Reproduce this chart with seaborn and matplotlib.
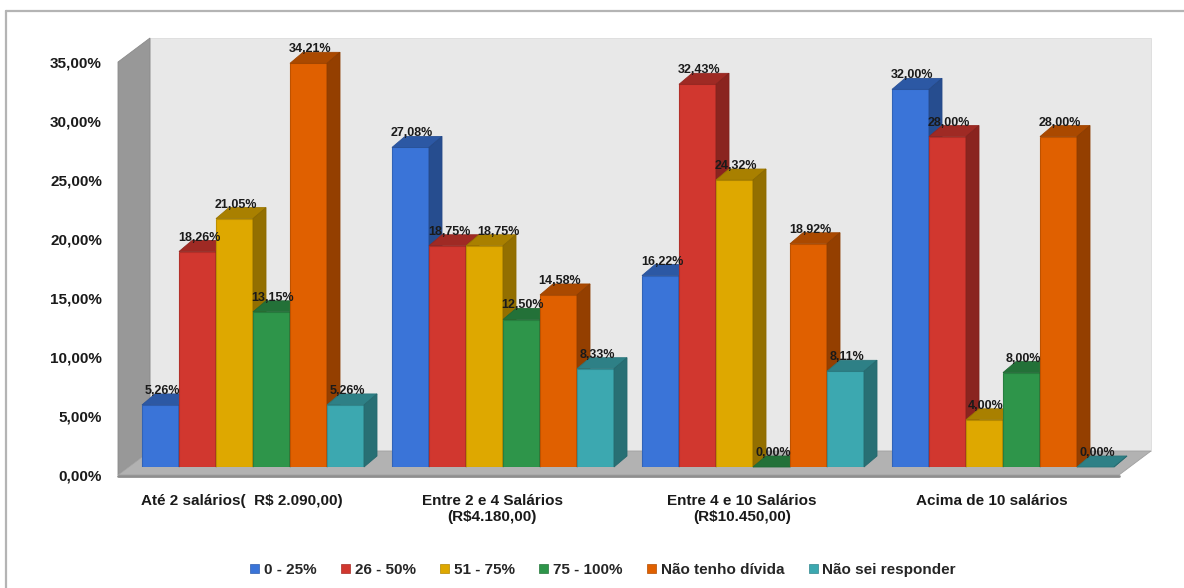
import numpy as np
import pandas as pd
import matplotlib
matplotlib.use("Agg")
import matplotlib.pyplot as plt
import seaborn as sns
from matplotlib.patches import Polygon, Patch
from matplotlib.lines import Line2D
from matplotlib.transforms import IdentityTransform, ScaledTranslation
from matplotlib import font_manager

categories = ["Até 2 salários(  R$ 2.090,00)",
              "Entre 2 e 4 Salários\n(R$4.180,00)",
              "Entre 4 e 10 Salários\n(R$10.450,00)",
              "Acima de 10 salários"]
series = ["0 - 25%", "26 - 50%", "51 - 75%", "75 - 100%",
          "Não tenho dívida", "Não sei responder"]
v_0_25 = [5.26, 27.08, 16.22, 32.00]
v_26_50 = [18.26, 18.75, 32.43, 28.00]
v_51_75 = [21.05, 18.75, 24.32, 4.00]
v_75_100 = [13.15, 12.50, 0.00, 8.00]
v_nao_tenho = [34.21, 14.58, 18.92, 28.00]
v_nao_sei = [5.26, 8.33, 8.11, 0.00]
yticks = [0, 5, 10, 15, 20, 25, 30, 35]
colors = ["#3A74D8", "#D1372F", "#DEA800", "#2E954A", "#E06000", "#3CA8B0"]

all_vals = [v_0_25, v_26_50, v_51_75, v_75_100, v_nao_tenho, v_nao_sei]
rows = []
for s, vals in zip(series, all_vals):
    for c, v in zip(categories, vals):
        rows.append({"cat": c, "serie": s, "val": v})
df = pd.DataFrame(rows)

sns.set_style("white")
names = {f.name for f in font_manager.fontManager.ttflist}
main_font = "Liberation Sans" if "Liberation Sans" in names else "DejaVu Sans"
narrow_font = "Liberation Sans Narrow" if "Liberation Sans Narrow" in names else main_font
plt.rcParams["font.family"] = [main_font, "DejaVu Sans"]

W, H = 1184, 588
fig = plt.figure(figsize=(W / 100, H / 100), dpi=100, facecolor="white")
ax = fig.add_axes([129 / W, (H - 467) / H, (1130 - 129) / W, (467 - 54) / H])
ax.set_facecolor("none")

sns.barplot(data=df, x="cat", y="val", hue="serie", hue_order=series,
            order=categories, palette=colors, width=0.888, gap=0,
            saturation=1, legend=False, ax=ax)
ax.set_xlim(-0.496, 3.508)
ax.set_ylim(0, 35)
for sp in ax.spines.values():
    sp.set_visible(False)
ax.set_xlabel("")
ax.set_ylabel("")

ax.set_yticks(yticks)
ax.set_yticklabels([f"{t:.2f}%".replace(".", ",") for t in yticks])
ax.tick_params(axis="y", length=0, pad=16 / 1.389, labelsize=11)
ax.tick_params(axis="x", length=0, pad=19 / 1.389, labelsize=11)
front_off = ScaledTranslation(-11 / 100, -8 / 100, fig.dpi_scale_trans)
for lab in ax.get_yticklabels() + ax.get_xticklabels():
    lab.set_transform(lab.get_transform() + front_off)
    lab.set_fontweight("bold")
    lab.set_color("#1a1a1a")
for lab in ax.get_xticklabels():
    lab.set_linespacing(1.2)

# 3D scene: walls and floor
T = ax.transData
def D(x, y, dx=0, dy=0):
    p = T.transform((x, y))
    return (p[0] + dx, p[1] + dy)

x0, x1 = ax.get_xlim()
top = 35
FX, FY = -11, -8
BX, BY = 21, 16
idt = IdentityTransform()
back = Polygon([D(x0, 0, BX, BY), D(x1, 0, BX, BY), D(x1, top, BX, BY), D(x0, top, BX, BY)],
               closed=True, facecolor="#e8e8e8", edgecolor="#dcdcdc", lw=0.6,
               transform=idt, zorder=0.1, clip_on=False)
left = Polygon([D(x0, 0, FX, FY), D(x0, top, FX, FY), D(x0, top, BX, BY), D(x0, 0, BX, BY)],
               closed=True, facecolor="#989898", edgecolor="#8a8a8a", lw=0.6,
               transform=idt, zorder=0.2, clip_on=False)
floor = Polygon([D(x0, 0, FX, FY), D(x1, 0, FX, FY), D(x1, 0, BX, BY), D(x0, 0, BX, BY)],
                closed=True, facecolor="#b2b2b2", edgecolor="#a0a0a0", lw=0.6,
                transform=idt, zorder=0.2, clip_on=False)
for p in (back, left, floor):
    ax.add_patch(p)
fe = [D(x0, 0, FX, FY), D(x1, 0, FX, FY)]
ax.add_line(Line2D([fe[0][0], fe[1][0]], [fe[0][1] - 1, fe[1][1] - 1], color="#8e8e8e",
                   lw=2.0, transform=idt, zorder=0.3, clip_on=False))

# 3D bars
bars = [p for p in ax.patches if p not in (back, left, floor)]
bars = sorted(bars, key=lambda r: r.get_x())
DX, DY = 13, 11
def shade(c, f):
    r, g, b = matplotlib.colors.to_rgb(c)
    return (r * f, g * f, b * f)
labels = []
for i, r in enumerate(bars):
    z = 2 + i * 0.01
    fc = r.get_facecolor()
    r.set_zorder(z)
    r.set_edgecolor(shade(fc, 0.85))
    r.set_linewidth(0.8)
    bx0, bx1 = r.get_x(), r.get_x() + r.get_width()
    h = r.get_height()
    topf = Polygon([D(bx0, h), D(bx1, h), D(bx1, h, DX, DY), D(bx0, h, DX, DY)],
                   closed=True, facecolor=shade(fc, 0.76), edgecolor=shade(fc, 0.7),
                   lw=0.6, transform=idt, zorder=z + 0.001, clip_on=False)
    side = Polygon([D(bx1, 0), D(bx1, h), D(bx1, h, DX, DY), D(bx1, 0, DX, DY)],
                   closed=True, facecolor=shade(fc, 0.66), edgecolor=shade(fc, 0.62),
                   lw=0.6, transform=idt, zorder=z + 0.002, clip_on=False)
    ax.add_patch(topf)
    ax.add_patch(side)
    ann = ax.annotate(f"{h:.2f}%".replace(".", ","), xy=((bx0 + bx1) / 2, h),
                      xytext=(1.5 * 0.72, 11 * 0.72), textcoords="offset points",
                      ha="center", va="baseline", fontsize=9, fontweight="bold",
                      family=[narrow_font, "DejaVu Sans"], color="#1a1a1a",
                      zorder=10, annotation_clip=False)
    labels.append(ann)

# avoid overlapping value labels (shift the later one to the right)
fig.canvas.draw()
rend = fig.canvas.get_renderer()
for a, b in zip(labels[:-1], labels[1:]):
    ba = a.get_window_extent(rend)
    bb = b.get_window_extent(rend)
    if bb.x0 < ba.x1 + 3 and bb.y0 < ba.y1 and ba.y0 < bb.y1:
        shift = ba.x1 + 7 - bb.x0
        ox, oy = b.xyann
        b.xyann = (ox + shift * 0.72, oy)

handles = [Patch(facecolor=c, edgecolor=shade(c, 0.8), lw=0.5) for c in colors]
leg = fig.legend(handles, series, ncol=6, loc="center",
                 bbox_to_anchor=(603 / W, 1 - 570 / H), frameon=False,
                 handlelength=0.6, handleheight=0.6, handletextpad=0.3,
                 columnspacing=1.6, prop={"family": [narrow_font, "DejaVu Sans"],
                                         "size": 11, "weight": "bold"})

# outer frame
fig.add_artist(Line2D([6 / W, 1], [1 - 11 / H, 1 - 11 / H], color="#b4b4b4", lw=1.6,
                      transform=fig.transFigure))
fig.add_artist(Line2D([6 / W, 6 / W], [0, 1 - 11 / H], color="#b4b4b4", lw=1.6,
                      transform=fig.transFigure))

fig.savefig("out.png", dpi=100, facecolor="white")
